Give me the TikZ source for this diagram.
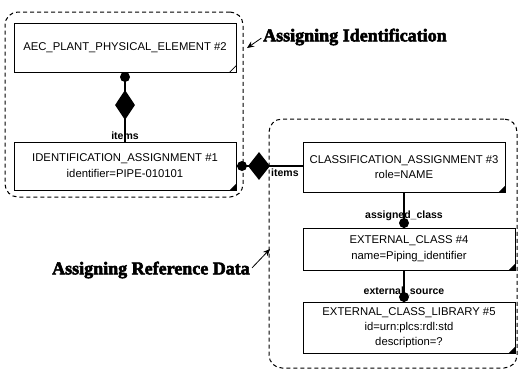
\documentclass[tikz,border=0pt]{standalone}
\usepackage{fontspec}
\setmainfont{Liberation Sans}
\newfontfamily\headfont[BoldFeatures={FakeBold=3}]{Liberation Serif}
\usetikzlibrary{arrows.meta,shapes.geometric}

\tikzset{
  entity/.style={draw, line width=0.9pt, fill=white, align=center,
    font=\fontsize{11.3}{15}\selectfont, inner sep=0pt},
  group/.style={draw, dashed, dash pattern=on 4pt off 3pt, line width=1pt,
    rounded corners=13pt, inner sep=0pt},
  role/.style={font=\bfseries\fontsize{10.5}{12}\selectfont, inner sep=0pt},
  heading/.style={font=\headfont\bfseries\fontsize{18}{20}\selectfont, inner sep=0pt},
  joint/.style={circle, fill=black, minimum size=10pt, inner sep=0pt},
  aggr/.style={diamond, fill=black, inner sep=0pt},
  link/.style={line width=1.1pt},
  pointer/.style={line width=0.8pt, -{Stealth[length=7pt,width=6pt]}},
}

\newcommand{\cornermark}[2][fill]{%
  \path[#1, line width=0.7pt] (#2.south east) -- ++(-7,0) -- ++(7,-7) -- cycle;}

\begin{document}
\begin{tikzpicture}[x=1pt,y=-1pt]
\useasboundingbox (0,0) rectangle (519,376);

% groups
\node[group, minimum width=238pt, minimum height=185pt] (gid) at (124,104.5) {};
\node[group, minimum width=248pt, minimum height=249pt] (gref) at (393,243.5) {};

% entities
\node[entity, minimum width=222pt, minimum height=49pt] (aec) at (125,47.5)
  {AEC\_PLANT\_PHYSICAL\_ELEMENT \#2};
\node[entity, minimum width=222pt, minimum height=48pt, font=\fontsize{11.3}{16}\selectfont] (ida) at (125,166)
  {IDENTIFICATION\_ASSIGNMENT \#1\\identifier=PIPE-010101};
\node[entity, minimum width=202pt, minimum height=50pt] (ca) at (404,167)
  {CLASSIFICATION\_ASSIGNMENT \#3\\role=NAME};
\node[entity, minimum width=212pt, minimum height=42pt, font=\fontsize{11.3}{16}\selectfont] (ec) at (409,249)
  {EXTERNAL\_CLASS \#4\\name=Piping\_identifier};
\node[entity, minimum width=212pt, minimum height=51pt] (ecl) at (409,327.5)
  {EXTERNAL\_CLASS\_LIBRARY \#5\\id=urn:plcs:rdl:std\\description=?};

\draw[line width=0.7pt, fill=white] (aec.south east) -- ++(-7,0) -- ++(7,-7) -- cycle;
\cornermark{ida}
\cornermark{ca}
\cornermark{ec}
\cornermark{ecl}

% connectors
\draw[link] (aec.south) -- (ida.north);
\draw[link] (ida.east) -- (ida.east -| ca.west);
\draw[link] (ca.south) -- (ca.south |- ec.north);
\draw[link] (ca.south |- ec.south) -- (ca.south |- ecl.north);

\node[joint] (j1) at (125,77) {};
\node[aggr, minimum width=20pt, minimum height=30pt] (d1) at (125,105) {};
\node[joint] (j2) at (242,166) {};
\node[aggr, minimum width=22pt, minimum height=28pt] (d2) at (259,166) {};

% role labels
\node[role] (r1) at (125,136) {items};
\node[role, anchor=west] (r2) at (271,173) {items};
\node[role] (r3) at (404,216) {assigned\_class};
\node[role] (r4) at (404,291) {external\_source};
\node[joint] (j3) at (404,223) {};
\node[joint] (j4) at (404,297) {};

% headings
\node[heading, anchor=west] (h1) at (263,37) {Assigning Identification};
\node[heading, anchor=east] (h2) at (250,270) {Assigning Reference Data};
\coordinate (t1) at (247,48);
\coordinate (t2) at (270,249);
\draw[pointer, shorten <=2pt] (h1.west) -- (t1);
\draw[pointer, shorten <=3pt] (h2.east) -- (t2);
\end{tikzpicture}
\end{document}
